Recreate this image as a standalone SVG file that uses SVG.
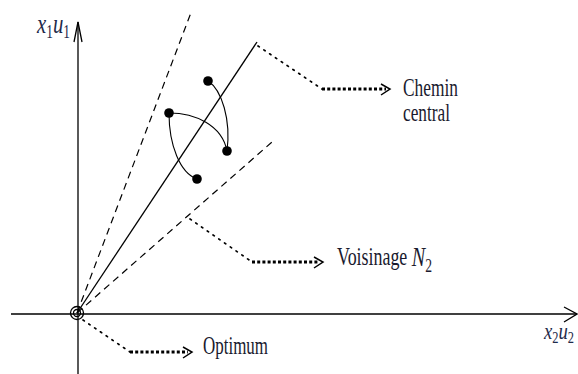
<svg xmlns="http://www.w3.org/2000/svg" width="578" height="374" viewBox="0 0 578 374">
<style>
.ax{stroke:#000;stroke-width:1.3;fill:none}
.sol{stroke:#000;stroke-width:1.3;fill:none}
.dash{stroke:#000;stroke-width:1.2;fill:none;stroke-dasharray:7 5}
.thin{stroke:#000;stroke-width:1.7;fill:none;stroke-dasharray:1.6 5.4;stroke-linecap:round}
.thick{stroke:#000;stroke-width:3;fill:none;stroke-dasharray:3 2.2}
.head{stroke:#000;stroke-width:1.5;fill:none}
.curve{stroke:#000;stroke-width:1.1;fill:none}
.lbl{font-family:"Liberation Serif",serif;font-size:25px;fill:#1a1a2e}
.var{font-family:"Liberation Serif",serif;fill:#1e2a4a}
.it{font-style:italic}
</style>
<g id="axes">
<line class="ax" x1="78" y1="22" x2="78" y2="374"/>
<path class="ax" d="M74,42 L78,22 L82,42"/>
<line class="ax" x1="11" y1="314" x2="576" y2="314"/>
<path class="ax" d="M564,307 L577,314 L564,322"/>
<text class="var" x="37" y="33" font-size="28" textLength="33" lengthAdjust="spacingAndGlyphs"><tspan class="it">x</tspan><tspan dy="5" font-size="18">1</tspan><tspan class="it" dy="-5">u</tspan><tspan dy="5" font-size="18">1</tspan></text>
<text class="var" x="544" y="339" font-size="24" textLength="30" lengthAdjust="spacingAndGlyphs"><tspan class="it">x</tspan><tspan dy="4" font-size="16">2</tspan><tspan class="it" dy="-4">u</tspan><tspan dy="4" font-size="16">2</tspan></text>
</g>
<g id="rays">
<line class="sol" x1="77" y1="313" x2="257" y2="42"/>
<line class="dash" x1="77" y1="313" x2="192" y2="10"/>
<line class="dash" x1="77" y1="313" x2="272" y2="142"/>
</g>
<g id="optimum-point">
<circle cx="77" cy="313" r="6.5" fill="none" stroke="#000" stroke-width="1.3"/>
<circle cx="77" cy="313" r="3.5" fill="none" stroke="#000" stroke-width="1.3"/>
</g>
<g id="points">
<path class="curve" d="M208,81 C222,90 231,120 227,151"/>
<path class="curve" d="M169,113 C195,113 222,125 227,151"/>
<path class="curve" d="M169,113 C169,145 180,173 197,179"/>
<circle cx="208" cy="81" r="4.8"/>
<circle cx="169" cy="113" r="4.8"/>
<circle cx="227" cy="151" r="4.8"/>
<circle cx="197" cy="179" r="4.8"/>
</g>
<g id="connectors">
<path class="thin" d="M258,46 L322,89"/>
<path class="thick" d="M322,89 L386,89"/>
<path class="head" d="M381,84 L390,89 L381,95"/>
<path class="thin" d="M190,219 L252,262"/>
<path class="thick" d="M252,262 L319,262"/>
<path class="head" d="M314,257 L323,262 L314,268"/>
<path class="thin" d="M83,320 L130,352"/>
<path class="thick" d="M130,352 L188,352"/>
<path class="head" d="M183,347 L192,352 L183,358"/>
</g>
<g id="label-chemin">
<text class="lbl" x="403" y="96" textLength="55" lengthAdjust="spacingAndGlyphs">Chemin</text>
<text class="lbl" x="403" y="121" textLength="47" lengthAdjust="spacingAndGlyphs">central</text>
</g>
<g id="label-voisinage">
<text class="lbl" x="337" y="265" textLength="95" lengthAdjust="spacingAndGlyphs">Voisinage <tspan class="it" style="font-size:28px" dy="1">N</tspan><tspan style="font-size:19px" dy="6">2</tspan></text>
</g>
<g id="label-optimum">
<text class="lbl" x="203" y="354" textLength="65" lengthAdjust="spacingAndGlyphs">Optimum</text>
</g>
</svg>
